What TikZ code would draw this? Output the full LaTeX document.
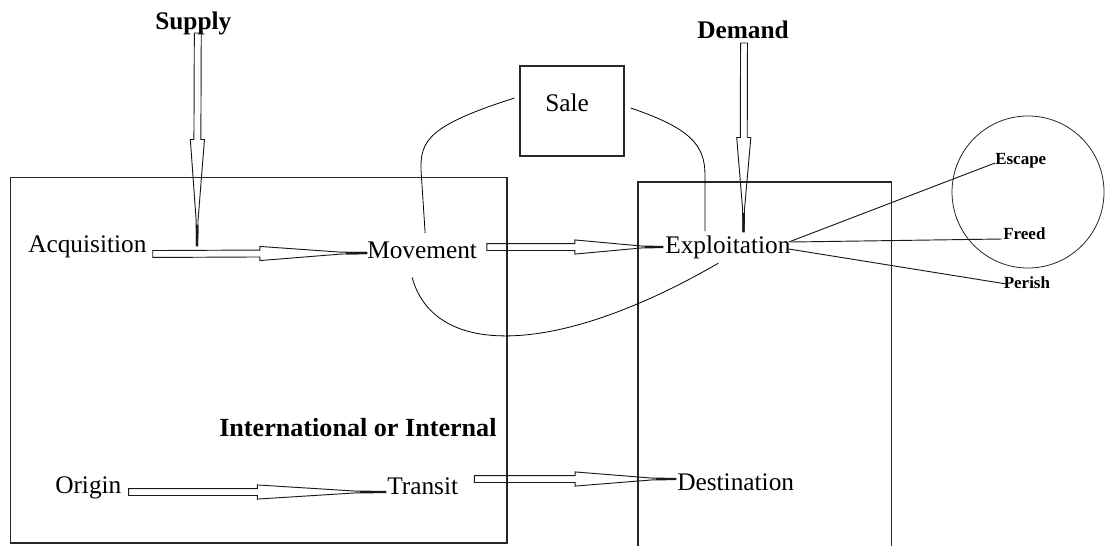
\documentclass[tikz,border=0pt]{standalone}
\usepackage{fontspec}
\setmainfont{Liberation Serif}
\usetikzlibrary{calc}

% Long thin hollow arrow from #1 to #2: narrow shaft, tapering head, short stem at the tip
\newcommand\hollowarrow[2]{%
  \draw[blockarrow] let \p1=(#1), \p2=(#2),
    \n1={atan2(\y2-\y1,\x2-\x1)}, \n2={veclen(\x2-\x1,\y2-\y1)} in
    [shift={(\p1)}, rotate=\n1]
    (0pt,-2.6pt) -- ({0.5*\n2},-2.6pt) -- ({0.5*\n2},-5.3pt)
    -- ({0.88*\n2},-0.7pt) -- ({1.0*\n2},-0.5pt) -- ({1.0*\n2},0.5pt)
    -- ({0.88*\n2},0.7pt) -- ({0.5*\n2},5.3pt) -- ({0.5*\n2},2.6pt)
    -- (0pt,2.6pt) -- cycle;
  \fill[black!90] let \p1=(#1), \p2=(#2),
    \n1={atan2(\y2-\y1,\x2-\x1)}, \n2={veclen(\x2-\x1,\y2-\y1)} in
    [shift={(\p1)}, rotate=\n1]
    ({0.9*\n2},-0.9pt) rectangle ({1.0*\n2},0.9pt);}

\tikzset{
  lbl/.style={inner sep=0pt, anchor=base west, font=\fontsize{19pt}{23pt}\selectfont},
  head/.style={lbl, font=\fontsize{19pt}{23pt}\selectfont\bfseries},
  fate/.style={inner sep=0pt, anchor=base west, font=\fontsize{12.75pt}{15pt}\selectfont\bfseries},
  frame/.style={draw=black!85, line width=0.8pt},
  blockarrow/.style={draw=black!90, line width=0.7pt, line join=miter},
  link/.style={draw=black!90, line width=0.7pt},
  curve/.style={draw=black, line width=0.6pt},
}

\begin{document}
\begin{tikzpicture}[x=0.75pt, y=-0.75pt]
\useasboundingbox (0,0) rectangle (1105,546);

% regions
\draw[frame] (10.5,177.5) rectangle (507,543);
\draw[frame] (638,546) -- (638,182) -- (891.5,182) -- (891.5,546);
\node[frame, minimum width=78pt, minimum height=67.5pt, inner sep=0pt] (salebox) at (572,111) {};
\node[draw=black!85, line width=0.6pt, circle, minimum size=114pt, inner sep=0pt] (outcome) at (1028,192) {};

% labels
\node[head] (supply) at (155,29) {Supply};
\node[head] (demand) at (697,38) {Demand};
\node[lbl] (sale) at (545,111) {Sale};
\node[lbl] (acq) at (28,252) {Acquisition};
\node[lbl] (mov) at (367,258) {Movement};
\node[lbl] (exp) at (665,253) {Exploitation};
\node[head, font=\fontsize{19.6pt}{23pt}\selectfont\bfseries] (intl) at (219,436) {International or Internal};
\node[lbl] (orig) at (55,493) {Origin};
\node[lbl] (trans) at (387,494) {Transit};
\node[lbl] (dest) at (677,490) {Destination};
\node[fate] (escape) at (995,164) {Escape};
\node[fate] (freed) at (1003,239) {Freed};
\node[fate] (perish) at (1003.5,288) {Perish};

% points where the vertical arrows land
\coordinate (supin) at (197,246);
\coordinate (demin) at (743.5,232);

% flows
\hollowarrow{[shift={(6,2)}]acq.base east}{[shift={(0,-5)}]mov.base west}
\hollowarrow{[shift={(9.5,-11)}]mov.base east}{[shift={(-2,-6)}]exp.base west}
\hollowarrow{[shift={(7,-1)}]orig.base east}{[shift={(-1,-2)}]trans.base west}
\hollowarrow{[shift={(16,-15)}]trans.base east}{[shift={(-1,-11)}]dest.base west}
\hollowarrow{[shift={(4.5,4)}]supply.base}{supin}
\hollowarrow{[shift={(1,5)}]demand.base}{demin}

% outcomes of exploitation
\draw[link] ([shift={(-2,-11)}]exp.base east) -- ([shift={(0,-1)}]escape.base west);
\draw[link] ([shift={(0,-11)}]exp.base east) -- ([shift={(-1,0)}]freed.base west);
\draw[link] ([shift={(-2,-4)}]exp.base east) -- ([shift={(3,-4)}]perish.base west);

% the sale loop between movement and exploitation
\draw[curve] ([shift={(-5,-13)}]salebox.west) .. controls (430,125) and (420,140) .. (421,170) -- ([shift={(3,-8)}]mov.north);
\draw[curve] ([shift={(6,-3)}]salebox.east) .. controls (690,128) and (705,145) .. (705,175) -- ([shift={(-23,-4)}]exp.north);
\draw[curve] ([shift={(-10,19)}]mov.south) .. controls (435,360) and (560,355) .. ([shift={(-9.5,4.5)}]exp.south);
\end{tikzpicture}
\end{document}
